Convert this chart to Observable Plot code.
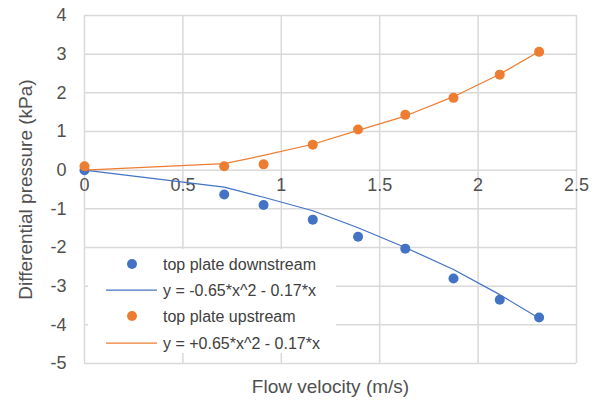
<!DOCTYPE html>
<html>
<head>
<meta charset="utf-8">
<script src="https://cdn.jsdelivr.net/npm/d3@7"></script>
<script src="https://cdn.jsdelivr.net/npm/@observablehq/plot@0.6"></script>
<style>
  html, body { margin: 0; padding: 0; background: #fff; }
  #wrap { position: relative; width: 598px; height: 406px; font-family: "Liberation Sans", Arial, sans-serif; }
  #legend { position: absolute; left: 88px; top: 249px; width: 248px; height: 104px; background: #fff; }
</style>
</head>
<body>
<div id="wrap"></div>
<script>
// Data
const velocity = [0, 0.71, 0.91, 1.16, 1.39, 1.63, 1.875, 2.11, 2.31];
const downstream = [0, -0.63, -0.90, -1.28, -1.72, -2.03, -2.80, -3.35, -3.81];
const upstream = [0.1, 0.1, 0.15, 0.66, 1.05, 1.43, 1.87, 2.47, 3.06];
const downstreamFit = [0, -0.44, -0.70, -1.05, -1.49, -2.00, -2.57, -3.22, -3.83];
const upstreamFit = [0, 0.17, 0.38, 0.67, 1.03, 1.40, 1.90, 2.48, 3.07];
const xTicks = [0, 0.5, 1, 1.5, 2, 2.5];
const yTicks = [4, 3, 2, 1, 0, -1, -2, -3, -4, -5];
const seriesNames = ["top plate downstream", "y = -0.65*x^2 - 0.17*x", "top plate upstream", "y = +0.65*x^2 - 0.17*x"];
const xTitle = "Flow velocity (m/s)";
const yTitle = "Differential pressure (kPa)";

const blue = "#4472C4";
const orange = "#ED7D31";
const grid = "#d9d9d9";
const textColor = "#505050";

const down = velocity.map((v, i) => ({x: v, y: downstream[i]}));
const up = velocity.map((v, i) => ({x: v, y: upstream[i]}));
const downFit = velocity.map((v, i) => ({x: v, y: downstreamFit[i]}));
const upFit = velocity.map((v, i) => ({x: v, y: upstreamFit[i]}));

const chart = Plot.plot({
  width: 598,
  height: 406,
  marginLeft: 84,
  marginRight: 22,
  marginTop: 15,
  marginBottom: 43,
  style: {fontFamily: '"Liberation Sans", Arial, sans-serif', color: textColor, background: "#fff"},
  x: {domain: [0, 2.5], axis: null},
  y: {domain: [-5, 4], axis: null},
  marks: [
    Plot.gridX(xTicks, {stroke: grid, strokeOpacity: 1, strokeWidth: 1.5}),
    Plot.gridY(yTicks, {stroke: grid, strokeOpacity: 1, strokeWidth: 1.5}),
    Plot.axisY(yTicks, {tickSize: 0, tickPadding: 18, fontSize: 18, tickFormat: d => String(d), label: null, fill: textColor}),
    Plot.text(xTicks, {x: d => d, y: 0, dy: 15, text: d => String(d), fontSize: 18, fill: textColor}),
    Plot.dot(down, {x: "x", y: "y", r: 5, fill: blue, stroke: "none"}),
    Plot.line(downFit, {x: "x", y: "y", stroke: blue, strokeWidth: 1.25}),
    Plot.dot(up, {x: "x", y: "y", r: 5, fill: orange, stroke: "none"}),
    Plot.line(upFit, {x: "x", y: "y", stroke: orange, strokeWidth: 1.25}),
    Plot.text([xTitle], {frameAnchor: "bottom", dy: 29, text: d => d, fontSize: 19, fill: textColor}),
    Plot.text([yTitle], {frameAnchor: "left", textAnchor: "middle", dx: -59, rotate: -90, text: d => d, fontSize: 19, fill: textColor})
  ]
});

const wrap = document.getElementById("wrap");
wrap.appendChild(chart);

// Legend (overlaid inside the plot area, with white background)
const legend = document.createElement("div");
legend.id = "legend";
const lsvg = d3.select(legend).append("svg").attr("width", 248).attr("height", 104)
  .style("font-family", '"Liberation Sans", Arial, sans-serif');
const rows = [
  {type: "dot", color: blue, y: 15},
  {type: "line", color: blue, y: 41},
  {type: "dot", color: orange, y: 67},
  {type: "line", color: orange, y: 94}
];
rows.forEach((r, i) => {
  if (r.type === "dot") {
    lsvg.append("circle").attr("cx", 44).attr("cy", r.y).attr("r", 5).attr("fill", r.color);
  } else {
    lsvg.append("line").attr("x1", 18).attr("x2", 69).attr("y1", r.y).attr("y2", r.y)
      .attr("stroke", r.color).attr("stroke-width", 1.25);
  }
  lsvg.append("text").attr("x", 75).attr("y", r.y).attr("dy", "0.35em")
    .attr("font-size", 16).attr("fill", "#404040").text(seriesNames[i]);
});
wrap.appendChild(legend);
</script>
</body>
</html>
